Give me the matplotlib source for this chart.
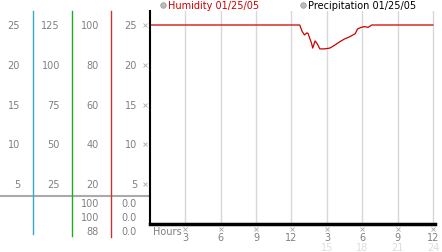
import numpy as np
import matplotlib.pyplot as plt

# humidity trace (hours, value)
hours = [0, 12.7, 12.9, 13.1, 13.3, 13.4, 13.7, 13.8, 14.0, 14.2, 14.4, 14.8,
         15.25, 15.7, 16.1, 16.5, 16.9, 17.4, 17.6, 17.9, 18.2, 18.5, 18.8, 24]
humidity = [25, 25, 24.2, 23.75, 24.0, 23.96, 22.7, 22.1, 23.0, 22.6, 22.0, 22.0,
            22.1, 22.5, 22.9, 23.25, 23.5, 23.9, 24.5, 24.7, 24.8, 24.7, 25, 25]

# left scale columns
col1 = ['25', '20', '15', '10', '5']
col2 = ['125', '100', '75', '50', '25']
col3 = ['100', '80', '60', '40', '20']
col4 = ['25', '20', '15', '10', '5']
col3_low = ['100', '100', '88']
col4_low = ['0.0', '0.0', '0.0']
tick_vals = [25, 20, 15, 10, 5]

xticks = [3, 6, 9, 12, 15, 18, 21, 24]
xlab1 = ['3', '6', '9', '12', '3', '6', '9', '12']
xlab2 = ['', '', '', '', '15', '18', '21', '24']

W, H = 442, 253
fig = plt.figure(figsize=(W / 100, H / 100), dpi=100)
fig.patch.set_facecolor('white')

# overlay in pixel coords
bg = fig.add_axes([0, 0, 1, 1])
bg.set_xlim(0, W)
bg.set_ylim(H, 0)
bg.axis('off')

# plot axes
x0, x1, ytop, ybot = 150, 435, 12, 225
ax = fig.add_axes([x0 / W, (H - ybot) / H, (x1 - x0) / W, (ybot - ytop) / H])
ax.set_xlim(0, 24.17)
ax.set_ylim(0, (ybot - ytop) / 7.96)
ax.patch.set_alpha(0)
for s in ['top', 'right']:
    ax.spines[s].set_visible(False)
ax.spines['left'].set_linewidth(1.5)
ax.spines['bottom'].set_linewidth(2.5)
ax.set_xticks([])
ax.set_yticks([])
for t in xticks:
    ax.axvline(t, color='#d8d8d8', lw=1, zorder=0)
ax.plot(hours, humidity, color='#cc0000', lw=0.9)

tc = '#808080'
fs = 7
ppu = 7.96
for i, v in enumerate(tick_vals):
    y = ybot - v * ppu
    bg.text(20, y, col1[i], ha='right', va='center', fontsize=fs, color=tc)
    bg.text(60, y, col2[i], ha='right', va='center', fontsize=fs, color=tc)
    bg.text(99, y, col3[i], ha='right', va='center', fontsize=fs, color=tc)
    bg.text(137, y, col4[i], ha='right', va='center', fontsize=fs, color=tc)
    bg.plot(145, y, 'x', ms=2.5, mew=0.6, color='#aaaaaa')

for i in range(3):
    y = 204 + i * 14
    bg.text(99, y, col3_low[i], ha='right', va='center', fontsize=fs, color=tc)
    bg.text(137, y, col4_low[i], ha='right', va='center', fontsize=fs, color=tc)

bg.plot([0, 150], [197, 197], color='#aaaaaa', lw=1.5)
bg.plot([33, 33], [12, 235], color='#33aacc', lw=1)
bg.plot([72, 72], [12, 237], color='#22aa22', lw=1)
bg.plot([111, 111], [12, 238], color='#cc3333', lw=1)

# x labels
bg.text(153, 232, 'Hours', ha='left', va='center', fontsize=fs, color=tc)
for i, t in enumerate(xticks):
    x = x0 + t * 11.8
    bg.plot(x, 230, 'x', ms=2.5, mew=0.6, color='#aaaaaa')
    bg.text(x, 238, xlab1[i], ha='center', va='center', fontsize=fs, color=tc)
    if xlab2[i]:
        bg.text(x, 248, xlab2[i], ha='center', va='center', fontsize=fs, color='#dddddd')

# legend
bg.plot(163, 6, 'o', ms=4, mfc='#bbbbbb', mec='#999999', mew=0.5)
bg.text(168, 6, 'Humidity 01/25/05', ha='left', va='center', fontsize=fs, color='#cc0000')
bg.plot(303, 6, 'o', ms=4, mfc='#bbbbbb', mec='#999999', mew=0.5)
bg.text(308, 6, 'Precipitation 01/25/05', ha='left', va='center', fontsize=fs, color='black')

fig.savefig('out.png', dpi=100)
